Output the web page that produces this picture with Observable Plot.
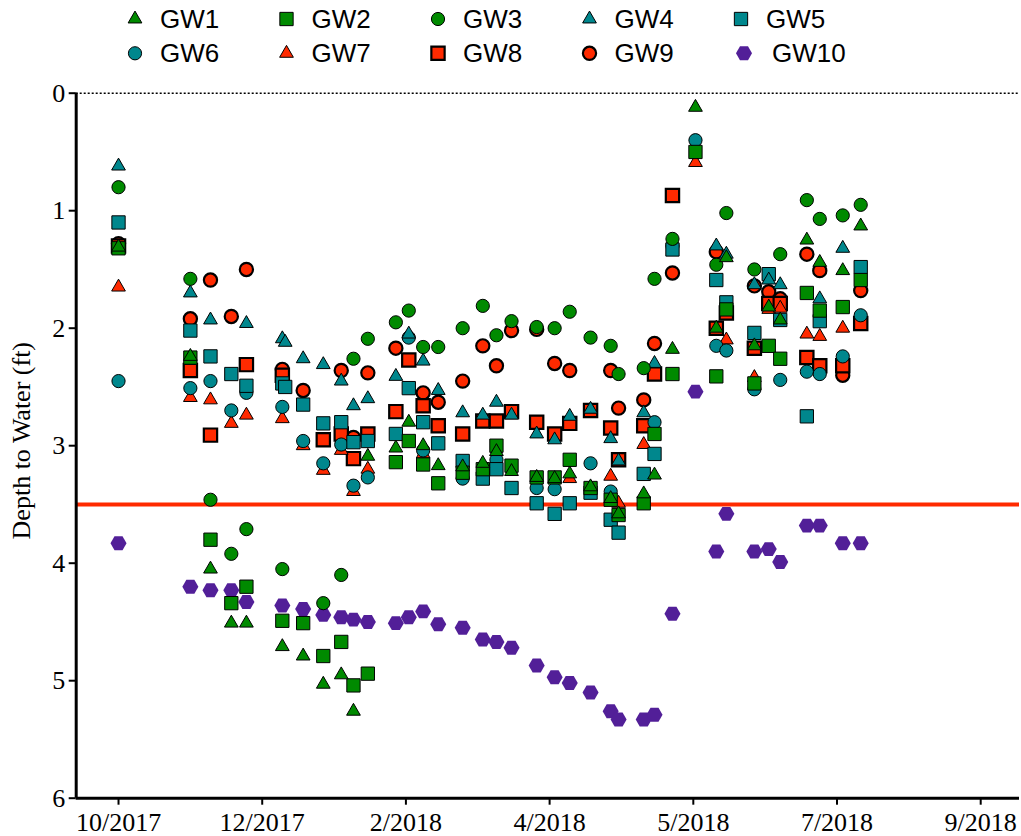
<!DOCTYPE html>
<html><head><meta charset="utf-8">
<script src="https://cdn.jsdelivr.net/npm/d3@7"></script>
<script src="https://cdn.jsdelivr.net/npm/@observablehq/plot@0.6"></script>
<style>body{margin:0;background:#fff;} svg{display:block}</style>
</head><body><div id="chart"></div><script>
// sampling dates, in months after 10/2017 (tick at 0)
const dates = [0,1.00,1.28,1.57,1.78,2.28,2.32,2.57,2.85,3.10,3.27,3.47,3.86,4.04,4.24,4.45,4.79,5.07,5.26,5.47,5.82,6.07,6.28,6.57,6.85,6.96,7.31,7.46,7.71,8.03,8.32,8.46,8.85,9.05,9.21,9.58,9.76,10.08,10.33];
const _ = null;
const GW1 = [1.31,2.24,4.05,4.51,4.51,4.71,_,4.79,5.03,4.95,5.26,3.09,3.02,2.80,3.00,3.17,3.18,3.15,3.05,3.22,3.27,3.28,3.24,3.35,3.45,3.58,3.41,3.25,2.18,0.12,2.00,1.40,2.15,1.82,1.93,1.25,1.44,1.51,1.13];
const GW2 = [1.32,2.25,3.80,4.34,4.20,4.49,_,4.51,4.79,4.67,5.04,4.94,3.14,2.96,3.16,3.32,3.23,3.20,3.00,3.17,3.27,3.27,3.12,3.36,3.46,3.59,3.49,2.90,2.39,0.50,2.41,1.84,2.47,2.15,2.26,1.70,1.85,1.82,1.59];
const GW3 = [0.80,1.58,3.46,3.92,3.71,4.05,_,_,4.34,4.10,2.26,2.09,1.95,1.85,2.16,2.16,2.00,1.81,2.06,1.94,1.99,2.00,1.86,2.08,2.15,2.39,2.34,1.58,1.24,_,1.46,1.02,1.50,_,1.37,0.91,1.07,1.04,0.95];
const GW4 = [0.62,1.70,1.93,_,1.96,2.09,2.12,2.26,2.31,2.45,2.66,2.60,2.41,2.05,2.28,2.53,2.72,2.74,2.63,2.74,2.90,2.95,2.75,2.69,2.94,3.13,2.72,2.30,_,_,1.30,1.37,1.63,1.59,1.63,_,1.75,1.32,_];
const GW5 = [1.10,2.02,2.24,2.39,2.49,2.47,2.50,2.65,2.81,2.80,2.97,2.96,2.90,2.51,2.80,2.98,3.13,3.28,3.20,3.36,3.49,3.58,3.49,3.40,3.63,3.74,3.24,3.07,1.33,_,1.59,1.78,2.04,1.54,1.93,2.75,1.94,_,1.48];
const GW6 = [2.45,2.51,2.45,2.70,2.55,2.67,_,2.96,3.15,2.99,3.34,3.27,_,2.08,3.04,_,3.28,_,3.12,_,3.36,3.37,_,3.15,3.39,_,_,2.80,1.30,0.40,2.15,2.19,2.52,_,2.44,2.37,2.39,2.24,1.89];
const GW7 = [1.65,2.59,2.61,2.81,2.74,2.77,_,3.00,3.21,3.04,3.39,3.20,_,_,3.07,_,_,_,_,_,_,_,3.28,_,3.26,3.49,2.99,_,_,0.59,_,2.10,2.42,1.84,1.83,2.05,2.07,2.00,_];
const GW8 = [1.30,2.36,2.91,_,2.31,2.40,_,_,2.95,2.90,3.11,2.90,2.71,2.27,2.66,2.83,2.90,2.79,2.79,2.71,2.80,2.90,2.81,2.70,2.85,3.12,2.83,2.39,0.87,_,2.00,1.87,2.17,1.79,1.79,2.25,2.32,2.32,1.96];
const GW9 = [1.28,1.92,1.59,1.90,1.50,2.35,_,2.53,_,2.36,2.93,2.38,2.17,_,2.55,2.63,2.45,2.15,2.32,2.02,2.01,2.30,2.36,_,2.36,2.68,2.61,2.13,1.53,_,1.35,_,1.64,1.69,1.75,1.37,1.51,2.40,1.68];
const GW10 = [3.83,4.20,4.23,4.23,4.33,4.36,_,4.39,4.44,4.46,4.48,4.50,4.51,4.46,4.41,4.52,4.55,4.65,4.67,4.72,4.87,4.97,5.02,5.10,5.26,5.33,5.33,5.29,4.43,2.54,3.90,3.58,3.90,3.88,3.99,3.68,3.68,3.83,3.83];

const seriesNames = ["GW1","GW2","GW3","GW4","GW5","GW6","GW7","GW8","GW9","GW10"];
const seriesValues = [GW1,GW2,GW3,GW4,GW5,GW6,GW7,GW8,GW9,GW10];

const xTicks = [0,2,4,6,8,10,12];
const xLabels = ["10/2017","12/2017","2/2018","4/2018","5/2018","7/2018","9/2018"];
const yTicks = [0,1,2,3,4,5,6];
const xDomain = [-0.589, 12.54];
const yDomain = [0, 6];
const threshold = 3.5;
const yLabel = "Depth to Water (ft)";

// styles
const GREEN = "#008a00", TEAL = "#00878d", RED = "#ff2a00", PURPLE = "#521f98";
const hexFlat = {draw(ctx, size){
  const R = Math.sqrt(2*size/(3*Math.sqrt(3))), h = R*Math.sqrt(3)/2;
  ctx.moveTo(R,0); ctx.lineTo(R/2,h); ctx.lineTo(-R/2,h); ctx.lineTo(-R,0); ctx.lineTo(-R/2,-h); ctx.lineTo(R/2,-h); ctx.closePath();
}};
const symbolName = {triangle: d3.symbolTriangle, square: d3.symbolSquare, circle: d3.symbolCircle};
const radius = {triangle: 5.1, square: 7.5, circle: 6.6, hex: 7.3};
const styles = [
  {symbol:"triangle", fill:GREEN, sw:1},
  {symbol:"square", fill:GREEN, sw:1},
  {symbol:"circle", fill:GREEN, sw:1},
  {symbol:"triangle", fill:TEAL, sw:1},
  {symbol:"square", fill:TEAL, sw:1},
  {symbol:"circle", fill:TEAL, sw:1},
  {symbol:"triangle", fill:RED, sw:1},
  {symbol:"square", fill:RED, sw:2.2},
  {symbol:"circle", fill:RED, sw:2.2},
  {symbol:"hex", fill:PURPLE, sw:0}
];

// tidy data
const tables = seriesNames.map((name, s) =>
  dates.map((d, i) => ({series: name, date: d, depth: seriesValues[s][i]})).filter(r => r.depth != null));

// legend (above the plot)
const legend = d3.create("svg").attr("width", 1021).attr("height", 70);
seriesNames.forEach((name, i) => {
  const st = styles[i];
  const col = i % 5, row = Math.floor(i / 5);
  const cx = 135 + col * 151.5, cy = row ? 53.3 : 19;
  const r = radius[st.symbol];
  const type = st.symbol === "hex" ? hexFlat : symbolName[st.symbol];
  legend.append("path")
    .attr("transform", `translate(${cx + (st.symbol==="hex"?3:0)},${cy})`)
    .attr("d", d3.symbol(type, Math.PI * r * r)())
    .attr("fill", st.fill)
    .attr("stroke", st.sw ? "black" : "none")
    .attr("stroke-width", st.sw);
  legend.append("text")
    .attr("x", cx + 25 + (st.symbol==="hex"?6:0)).attr("y", row ? 62 : 27.7)
    .attr("font-family", "Liberation Sans, Arial, sans-serif")
    .attr("font-size", 26)
    .text(name);
});

const dots = tables.map((t, s) => {
  const st = styles[s];
  return Plot.dot(t, {
    x: "date", y: "depth",
    symbol: st.symbol === "hex" ? hexFlat : st.symbol,
    r: radius[st.symbol],
    fill: st.fill,
    stroke: st.sw ? "black" : "none",
    strokeWidth: st.sw || 0
  });
}).reverse();

const chart = Plot.plot({
  width: 1021, height: 766,
  marginLeft: 75.7, marginRight: 2, marginTop: 22.7, marginBottom: 38.3,
  x: {domain: xDomain},
  y: {domain: yDomain, reverse: true},
  style: {fontFamily: "Liberation Serif, 'Times New Roman', serif", background: "white", color: "black"},
  marks: [
    Plot.ruleY([yDomain[0]], {stroke: "black", strokeWidth: 1.5, strokeDasharray: "2,2"}),
    Plot.ruleY([threshold], {stroke: RED, strokeWidth: 4}),
    ...dots,
    Plot.ruleX([xDomain[0]], {y1: yDomain[0], y2: yDomain[1], stroke: "black", strokeWidth: 3}),
    Plot.ruleY([yDomain[1]], {stroke: "black", strokeWidth: 3}),
    Plot.axisX({ticks: xTicks, tickFormat: d => xLabels[xTicks.indexOf(d)], tickSize: 7, tickPadding: 7, fontSize: 26, strokeWidth: 2, label: null}),
    Plot.axisY({ticks: yTicks, tickFormat: d => String(d), tickSize: 7, tickPadding: 4, fontSize: 26, strokeWidth: 2, label: null}),
    Plot.text([yLabel], {frameAnchor: "left", dx: -54.7, dy: -5, rotate: -90, fontSize: 26, textAnchor: "middle", lineAnchor: "middle", fill: "black"})
  ]
});

const root = document.getElementById("chart");
root.appendChild(legend.node());
root.appendChild(chart);
</script></body></html>
